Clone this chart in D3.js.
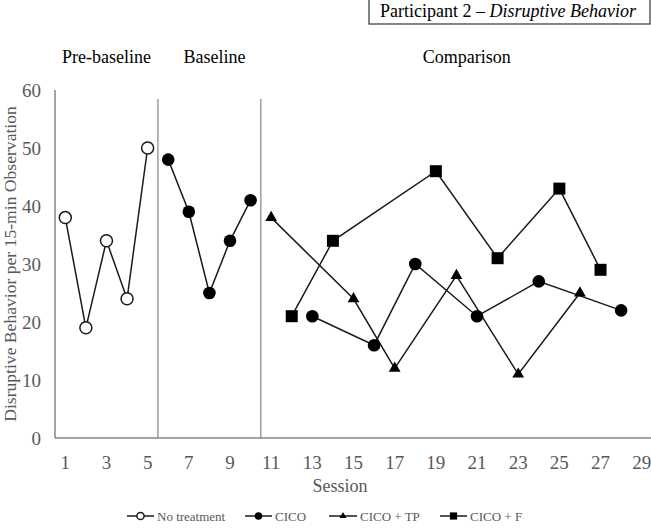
<!DOCTYPE html>
<html>
<head>
<meta charset="utf-8">
<script src="https://cdn.jsdelivr.net/npm/d3@7"></script>
<style>
  body { margin: 0; background: #fff; }
  svg text { font-family: "Liberation Serif", "Times New Roman", serif; }
</style>
</head>
<body>
<div id="chart"></div>
<script>
// data
const yTicks = [0, 10, 20, 30, 40, 50, 60];
const xTickLabels = d3.range(1, 30, 2);

const noTreatment = [[1, 38], [2, 19], [3, 34], [4, 24], [5, 50]];
const cicoBaseline = [[6, 48], [7, 39], [8, 25], [9, 34], [10, 41]];
const cico = [[13, 21], [16, 16], [18, 30], [21, 21], [24, 27], [28, 22]];
const cicoTP = [[11, 38], [15, 24], [17, 12], [20, 28], [23, 11], [26, 25]];
const cicoF = [[12, 21], [14, 34], [19, 46], [22, 31], [25, 43], [27, 29]];

const phaseNames = ["Pre-baseline", "Baseline", "Comparison"];
const phaseCenters = [3, 8.25, 20.5];
const phaseBreaks = [5.5, 10.5];

const legendItems = ["No treatment", "CICO", "CICO + TP", "CICO + F"];

class DisruptiveChart {
  constructor(parentElement) {
    this.parentElement = parentElement;
    this.initVis();
  }

  initVis() {
    let vis = this;
    vis.width = 651;
    vis.height = 528;

    vis.svg = d3.select("#" + vis.parentElement).append("svg")
      .attr("width", vis.width)
      .attr("height", vis.height);

    // category-style x axis: each session gets a band
    vis.x = d3.scaleLinear().domain([0.5, 29.5]).range([55, 652]);
    vis.y = d3.scaleLinear().domain([0, 60]).range([438, 90]);

    const axisColor = "#868686";
    const labelColor = "#595959";

    // title box (its top runs off the page, like the original)
    vis.svg.append("rect")
      .attr("x", 369).attr("y", -20)
      .attr("width", 281).attr("height", 44)
      .attr("fill", "#fff")
      .attr("stroke", "#333").attr("stroke-width", 1.2);

    let title = vis.svg.append("text")
      .attr("x", 508).attr("y", 17)
      .attr("text-anchor", "middle")
      .attr("font-size", 18)
      .attr("fill", "#000");
    title.append("tspan").text("Participant 2 – ");
    title.append("tspan").attr("font-style", "italic").text("Disruptive Behavior");

    // y axis
    vis.svg.append("line")
      .attr("x1", vis.x(0.5)).attr("x2", vis.x(0.5))
      .attr("y1", vis.y(60)).attr("y2", vis.y(0))
      .attr("stroke", axisColor).attr("stroke-width", 1.5);

    vis.svg.selectAll(".ytick").data(yTicks).enter().append("text")
      .attr("class", "ytick")
      .attr("x", 41)
      .attr("y", d => vis.y(d))
      .attr("dy", "0.35em")
      .attr("text-anchor", "end")
      .attr("font-size", 19)
      .attr("fill", labelColor)
      .text(d => d);

    // x axis
    vis.svg.append("line")
      .attr("x1", vis.x(0.5)).attr("x2", vis.x(29.5))
      .attr("y1", vis.y(0)).attr("y2", vis.y(0))
      .attr("stroke", axisColor).attr("stroke-width", 1.5);

    vis.svg.selectAll(".xtick").data(xTickLabels).enter().append("text")
      .attr("class", "xtick")
      .attr("x", d => vis.x(d))
      .attr("y", 469)
      .attr("text-anchor", "middle")
      .attr("font-size", 19)
      .attr("fill", labelColor)
      .text(d => d);

    vis.svg.append("text")
      .attr("x", 340).attr("y", 492)
      .attr("text-anchor", "middle")
      .attr("font-size", 18)
      .attr("fill", labelColor)
      .text("Session");

    vis.svg.append("text")
      .attr("transform", "translate(16,264) rotate(-90)")
      .attr("text-anchor", "middle")
      .attr("font-size", 17.6)
      .attr("fill", labelColor)
      .text("Disruptive Behavior per 15-min Observation");

    // phase change lines
    vis.svg.selectAll(".phase-line").data(phaseBreaks).enter().append("line")
      .attr("class", "phase-line")
      .attr("x1", d => vis.x(d)).attr("x2", d => vis.x(d))
      .attr("y1", 99).attr("y2", vis.y(0))
      .attr("stroke", "#7a7a7a").attr("stroke-width", 1.1);

    // phase labels
    vis.svg.selectAll(".phase-label").data(phaseNames).enter().append("text")
      .attr("class", "phase-label")
      .attr("x", (d, i) => vis.x(phaseCenters[i]))
      .attr("y", 63)
      .attr("text-anchor", "middle")
      .attr("font-size", 18)
      .attr("fill", "#000")
      .text(d => d);

    const line = d3.line().x(d => vis.x(d[0])).y(d => vis.y(d[1]));

    const series = [
      { data: noTreatment, shape: "openCircle" },
      { data: cicoBaseline, shape: "circle" },
      { data: cico, shape: "circle" },
      { data: cicoTP, shape: "triangle" },
      { data: cicoF, shape: "square" }
    ];

    series.forEach(s => {
      vis.svg.append("path")
        .datum(s.data)
        .attr("d", line)
        .attr("fill", "none")
        .attr("stroke", "#1a1a1a")
        .attr("stroke-width", 1.5);
    });

    series.forEach(s => {
      vis.svg.append("g").selectAll("g").data(s.data).enter().append("g")
        .attr("transform", d => "translate(" + vis.x(d[0]) + "," + vis.y(d[1]) + ")")
        .each(function() { vis.drawMarker(d3.select(this), s.shape, 1); });
    });

    // legend
    const legendX = [127, 245, 329, 440];
    const legendShapes = ["openCircle", "circle", "triangle", "square"];
    const legendW = [27, 27, 28, 27];
    legendItems.forEach((name, i) => {
      let g = vis.svg.append("g").attr("transform", "translate(" + legendX[i] + ",516)");
      g.append("line").attr("x1", 0).attr("x2", legendW[i])
        .attr("stroke", "#1a1a1a").attr("stroke-width", 1.5);
      vis.drawMarker(g.append("g").attr("transform", "translate(" + legendW[i] / 2 + ",0)"), legendShapes[i], 0.6);
      g.append("text")
        .attr("x", legendW[i] + 3).attr("y", 0).attr("dy", "0.35em")
        .attr("font-size", 13)
        .attr("fill", labelColor)
        .text(name);
    });
  }

  drawMarker(g, shape, k) {
    if (shape === "openCircle") {
      g.append("circle").attr("r", 6 * k).attr("fill", "#fff")
        .attr("stroke", "#1a1a1a").attr("stroke-width", 1.5);
    } else if (shape === "circle") {
      g.append("circle").attr("r", 6.3 * k).attr("fill", "#000");
    } else if (shape === "triangle") {
      g.append("path").attr("d", d3.symbol(d3.symbolTriangle, 60 * k * k)).attr("fill", "#000");
    } else {
      g.append("rect").attr("x", -6 * k).attr("y", -6 * k)
        .attr("width", 12 * k).attr("height", 12 * k).attr("fill", "#000");
    }
  }
}

new DisruptiveChart("chart");
</script>
</body>
</html>
